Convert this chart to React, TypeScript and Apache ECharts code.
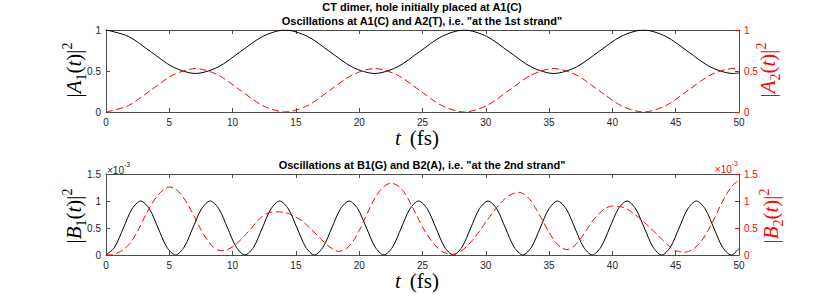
import React, { useEffect, useRef } from "react";
import * as echarts from "echarts";

// ---- Top subplot: A1 / A2 populations (time in fs) ----
const TIME_A = [0, 1.769, 3.538, 5.306, 7.075, 8.844, 10.613, 12.381, 14.15, 15.919, 17.688, 19.456, 21.225, 22.994, 24.763, 26.531, 28.3, 30.069, 31.838, 33.606, 35.375, 37.144, 38.913, 40.681, 42.45, 44.219, 45.988, 47.756, 49.525, 50];
const A1_VALUES = [1.0, 0.922, 0.735, 0.548, 0.47, 0.548, 0.735, 0.922, 1.0, 0.922, 0.735, 0.548, 0.47, 0.548, 0.735, 0.922, 1.0, 0.922, 0.735, 0.548, 0.47, 0.548, 0.735, 0.922, 1.0, 0.922, 0.735, 0.548, 0.47, 0.476];
const A2_VALUES = [0.0, 0.078, 0.265, 0.452, 0.53, 0.452, 0.265, 0.078, 0.0, 0.078, 0.265, 0.452, 0.53, 0.452, 0.265, 0.078, 0.0, 0.078, 0.265, 0.452, 0.53, 0.452, 0.265, 0.078, 0.0, 0.078, 0.265, 0.452, 0.53, 0.524];

// ---- Bottom subplot: B1 / B2 populations (values in units of 1e-3) ----
const TIME_B1 = [0, 0.686, 1.372, 2.058, 2.744, 3.429, 4.115, 4.801, 5.487, 6.173, 6.859, 7.545, 8.231, 8.916, 9.602, 10.288, 10.974, 11.66, 12.346, 13.032, 13.718, 14.403, 15.089, 15.775, 16.461, 17.147, 17.833, 18.519, 19.205, 19.89, 20.576, 21.262, 21.948, 22.634, 23.32, 24.006, 24.692, 25.377, 26.063, 26.749, 27.435, 28.121, 28.807, 29.493, 30.179, 30.864, 31.55, 32.236, 32.922, 33.608, 34.294, 34.98, 35.666, 36.351, 37.037, 37.723, 38.409, 39.095, 39.781, 40.467, 41.153, 41.838, 42.524, 43.21, 43.896, 44.582, 45.268, 45.954, 46.64, 47.325, 48.011, 48.697, 49.383, 50];
const B1_VALUES = [0, 0.146, 0.5, 0.854, 1.0, 0.854, 0.5, 0.146, 0, 0.146, 0.5, 0.854, 1.0, 0.854, 0.5, 0.146, 0, 0.146, 0.5, 0.854, 1.0, 0.854, 0.5, 0.146, 0, 0.146, 0.5, 0.854, 1.0, 0.854, 0.5, 0.146, 0, 0.146, 0.5, 0.854, 1.0, 0.854, 0.5, 0.146, 0, 0.146, 0.5, 0.854, 1.0, 0.854, 0.5, 0.146, 0, 0.146, 0.5, 0.854, 1.0, 0.854, 0.5, 0.146, 0, 0.146, 0.5, 0.854, 1.0, 0.854, 0.5, 0.146, 0, 0.146, 0.5, 0.854, 1.0, 0.854, 0.5, 0.146, 0, 0.12];
const TIME_B2 = [0, 0.5, 1, 1.5, 2, 2.5, 3, 3.5, 4, 4.5, 5, 5.5, 6, 6.5, 7, 7.5, 8, 8.5, 9.1, 9.5, 10, 10.5, 11, 11.5, 12, 12.5, 13, 13.5, 14, 14.5, 15, 15.5, 16, 16.5, 17, 17.5, 18, 18.35, 19, 19.5, 20, 20.5, 21, 21.5, 22, 22.5, 23, 23.5, 24, 24.5, 25, 25.5, 26, 26.5, 27, 27.25, 27.5, 28, 28.5, 29, 29.5, 30, 30.5, 31, 31.5, 32, 32.6, 33, 33.5, 34, 34.5, 35, 35.5, 36, 36.4, 37, 37.5, 38, 38.5, 39, 39.5, 40.1, 40.5, 41, 41.5, 42, 42.5, 43, 43.5, 44, 44.5, 45, 45.7, 46, 46.5, 47, 47.5, 48, 48.5, 49, 49.5, 50];
const B2_VALUES = [0, 0.01, 0.05, 0.12, 0.25, 0.44, 0.68, 0.9, 1.08, 1.2, 1.26, 1.22, 1.1, 0.92, 0.7, 0.47, 0.28, 0.14, 0.08, 0.095, 0.15, 0.25, 0.37, 0.5, 0.64, 0.74, 0.79, 0.8, 0.79, 0.76, 0.7, 0.63, 0.52, 0.41, 0.29, 0.18, 0.1, 0.065, 0.12, 0.25, 0.45, 0.7, 0.95, 1.15, 1.28, 1.33, 1.29, 1.18, 0.98, 0.75, 0.52, 0.33, 0.18, 0.07, 0.02, 0.01, 0.015, 0.065, 0.16, 0.29, 0.44, 0.61, 0.77, 0.92, 1.04, 1.12, 1.16, 1.13, 1.02, 0.84, 0.63, 0.42, 0.24, 0.13, 0.1, 0.17, 0.31, 0.48, 0.65, 0.78, 0.87, 0.91, 0.9, 0.87, 0.8, 0.71, 0.61, 0.5, 0.39, 0.27, 0.16, 0.08, 0.05, 0.065, 0.13, 0.25, 0.43, 0.65, 0.9, 1.12, 1.29, 1.38];

const X_TICK_INTERVAL = 5;
const TOP_TITLE_1 = "CT dimer, hole initially placed at A1(C)";
const TOP_TITLE_2 = 'Oscillations at A1(C) and A2(T), i.e. "at the 1st strand"';
const BOTTOM_TITLE = 'Oscillations at B1(G) and B2(A), i.e. "at the 2nd strand"';

const zip = (xs: number[], ys: number[]) => xs.map((x, i) => [x, ys[i]]);

const AX = "#262626";
const AXLINE = "#4d4d4d";
const RED = "#ff0000";
const SANS = "'Liberation Sans', Arial, Helvetica, sans-serif";
const SERIF = "'Liberation Serif', 'Times New Roman', serif";

function mathLabel(letter: string, sub: string, color: string) {
  return {
    text: `{n||}{i|${letter}}{s|${sub}}{n|(}{i|t}{n|)|}{p|2}`,
    rich: {
      n: { fontFamily: SERIF, fontSize: 21, fill: color, lineHeight: 28, verticalAlign: "middle" },
      i: { fontFamily: SERIF, fontSize: 21, fontStyle: "italic", fill: color, lineHeight: 28, verticalAlign: "middle" },
      s: { fontFamily: SERIF, fontSize: 14, fill: color, lineHeight: 16, verticalAlign: "bottom" },
      p: { fontFamily: SERIF, fontSize: 14, fill: color, lineHeight: 14, verticalAlign: "top" },
    },
    align: "center",
    verticalAlign: "middle",
  };
}

function xLabel() {
  return {
    text: "{i|t}{g| }{n|(fs)}",
    rich: {
      n: { fontFamily: SERIF, fontSize: 21, fill: "#000", lineHeight: 16 },
      i: { fontFamily: SERIF, fontSize: 21, fontStyle: "italic", fill: "#000", lineHeight: 16 },
      g: { fontFamily: SERIF, fontSize: 21, width: 9, lineHeight: 16 },
    },
    align: "center",
    verticalAlign: "middle",
  };
}

function expLabel(color: string, align: string) {
  return {
    text: "{a|×10}{b|-3}",
    rich: {
      a: { fontFamily: SANS, fontSize: 10, fill: color, lineHeight: 14, verticalAlign: "bottom" },
      b: { fontFamily: SANS, fontSize: 7, fill: color, lineHeight: 14, verticalAlign: "top" },
    },
    align,
    verticalAlign: "middle",
  };
}

function xAxes(gridIndex: number) {
  const common = {
    gridIndex,
    type: "value",
    min: 0,
    max: 50,
    interval: X_TICK_INTERVAL,
    splitLine: { show: false },
    axisLine: { show: true, onZero: false, lineStyle: { color: AXLINE, width: 1 } },
    axisTick: { show: true, inside: true, length: 4, lineStyle: { color: AXLINE, width: 1 } },
  };
  return [
    { ...common, position: "bottom", axisLabel: { color: AX, fontSize: 10, fontFamily: SANS, margin: 5 } },
    { ...common, position: "top", axisLabel: { show: false } },
  ];
}

function yAxis(gridIndex: number, max: number, position: string, color: string, lineColor: string) {
  return {
    gridIndex,
    type: "value",
    min: 0,
    max,
    interval: 0.5,
    position,
    splitLine: { show: false },
    axisLine: { show: true, onZero: false, lineStyle: { color: lineColor, width: 1 } },
    axisTick: { show: true, inside: true, length: 4, lineStyle: { color: lineColor, width: 1 } },
    axisLabel: { color, fontSize: 10, fontFamily: SANS, margin: 5 },
  };
}

export default function App() {
  const ref = useRef<HTMLDivElement>(null);
  useEffect(() => {
    if (!ref.current) return;
    const chart = echarts.init(ref.current, null, { renderer: "svg" });
    const solid = { color: "#000", width: 1 };
    const dashed = { color: RED, width: 1, type: [7, 3.5] as any };
    chart.setOption({
      animation: false,
      backgroundColor: "#fff",
      grid: [
        { left: 106, top: 30, width: 633, height: 82 },
        { left: 106, top: 174, width: 633, height: 81 },
      ],
      xAxis: [...xAxes(0), ...xAxes(1)],
      yAxis: [
        yAxis(0, 1, "left", AX, AXLINE),
        yAxis(0, 1, "right", RED, RED),
        yAxis(1, 1.5, "left", AX, AXLINE),
        yAxis(1, 1.5, "right", RED, RED),
      ],
      series: [
        { type: "line", xAxisIndex: 0, yAxisIndex: 0, data: zip(TIME_A, A1_VALUES), symbol: "none", smooth: 0.3, lineStyle: solid },
        { type: "line", xAxisIndex: 0, yAxisIndex: 1, data: zip(TIME_A, A2_VALUES), symbol: "none", smooth: 0.3, lineStyle: dashed },
        { type: "line", xAxisIndex: 2, yAxisIndex: 2, data: zip(TIME_B1, B1_VALUES), symbol: "none", smooth: 0.3, lineStyle: solid },
        { type: "line", xAxisIndex: 2, yAxisIndex: 3, data: zip(TIME_B2, B2_VALUES), symbol: "none", smooth: 0.3, lineStyle: dashed },
      ],
      graphic: [
        { type: "text", x: 422, y: 7, style: { text: TOP_TITLE_1, fontFamily: SANS, fontSize: 11, fontWeight: "bold", fill: "#000", align: "center", verticalAlign: "middle" } },
        { type: "text", x: 422, y: 21, style: { text: TOP_TITLE_2, fontFamily: SANS, fontSize: 11, fontWeight: "bold", fill: "#000", align: "center", verticalAlign: "middle" } },
        { type: "text", x: 422, y: 165, style: { text: BOTTOM_TITLE, fontFamily: SANS, fontSize: 11, fontWeight: "bold", fill: "#000", align: "center", verticalAlign: "middle" } },
        { type: "text", x: 74, y: 70, rotation: Math.PI / 2, style: mathLabel("A", "1", "#000") },
        { type: "text", x: 768, y: 70, rotation: Math.PI / 2, style: mathLabel("A", "2", RED) },
        { type: "text", x: 74, y: 216, rotation: Math.PI / 2, style: mathLabel("B", "1", "#000") },
        { type: "text", x: 771, y: 216, rotation: Math.PI / 2, style: mathLabel("B", "2", RED) },
        { type: "text", x: 417, y: 138, style: xLabel() },
        { type: "text", x: 417, y: 281, style: xLabel() },
        { type: "text", x: 107, y: 168, style: expLabel(AX, "left") },
        { type: "text", x: 738, y: 167, style: expLabel(RED, "right") },
      ],
    });
    return () => chart.dispose();
  }, []);
  return <div ref={ref} style={{ position: "fixed", left: 0, top: 0, width: 817, height: 302 }} />;
}
